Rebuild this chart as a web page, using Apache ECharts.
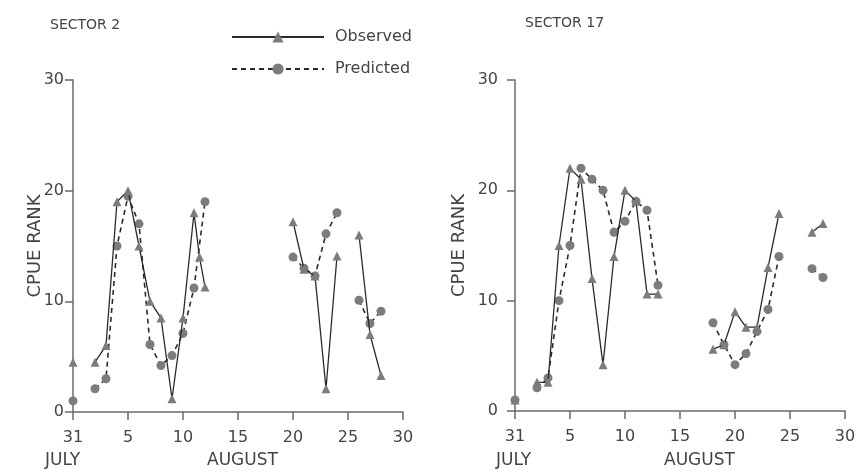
<!DOCTYPE html>
<html>
<head>
<meta charset="utf-8">
<script src="https://cdn.jsdelivr.net/npm/echarts@6/dist/echarts.min.js"></script>
<style>html,body{margin:0;padding:0;background:#fff}#c{width:864px;height:472px}</style>
</head>
<body>
<div id="c"></div>
<script>
// Days since 31 July (0 = 31 July, 5 = 5 August ...)
var xTickLabels = {0: '31', 5: '5', 10: '10', 15: '15', 20: '20', 25: '25', 30: '30'};
var panelTitles = ['SECTOR 2', 'SECTOR 17'];

var s2ObsDays = [0, 1, 2, 3, 4, 5, 6, 7, 8, 9, 10, 11, 11.5, 12, 13, 20, 21, 22, 23, 24, 25, 26, 27, 28];
var s2ObsRank = [4.5, null, 4.5, 6, 19, 20, 15, 10, 8.5, 1.2, 8.5, 18, 14, 11.3, null, 17.2, 12.9, 12.3, 2.1, 14.1, null, 16, 7, 3.3];

var s2PredDays = [0, 1, 2, 3, 4, 5, 6, 7, 8, 9, 10, 11, 12, 13, 20, 21, 22, 23, 24, 25, 26, 27, 28];
var s2PredRank = [1, null, 2.1, 3, 15, 19.5, 17, 6.1, 4.2, 5.1, 7.1, 11.2, 19, null, 14, 13, 12.3, 16.1, 18, null, 10.1, 8, 9.1];

var s17ObsDays = [0, 1, 2, 3, 4, 5, 6, 7, 8, 9, 10, 11, 12, 13, 14, 18, 19, 20, 21, 22, 23, 24, 25, 27, 28];
var s17ObsRank = [1, null, 2.6, 2.6, 15, 22, 21, 12, 4.2, 14, 20, 19, 10.6, 10.6, null, 5.6, 6, 9, 7.6, 7.6, 13, 17.9, null, 16.2, 17];

var s17PredDays = [0, 1, 2, 3, 4, 5, 6, 7, 8, 9, 10, 11, 12, 13, 14, 18, 19, 20, 21, 22, 23, 24, 25, 27, 28];
var s17PredRank = [1, null, 2.1, 3, 10, 15, 22, 21, 20, 16.2, 17.2, 19, 18.2, 11.4, null, 8, 6, 4.2, 5.2, 7.2, 9.2, 14, null, 12.9, 12.1];

function pairs(xs, ys) {
  return xs.map(function (x, i) { return [x, ys[i]]; });
}

var FONT = 'DejaVu Sans';
var TXT = '#444444';
var AX = '#6a6a6a';
var MARK = '#7c7c7c';

function xAxis(idx) {
  return {
    type: 'value', gridIndex: idx, min: 0, max: 30, interval: 5,
    axisLine: {show: true, lineStyle: {color: AX, width: 1.5}},
    axisTick: {show: true, length: 8, lineStyle: {color: AX, width: 1.5}},
    splitLine: {show: false},
    axisLabel: {
      margin: 18, color: TXT, fontFamily: FONT, fontSize: 16,
      formatter: function (v) { return xTickLabels[v] !== undefined ? xTickLabels[v] : ''; }
    }
  };
}
function yAxis(idx, gap, margin) {
  return {
    type: 'value', gridIndex: idx, min: 0, max: 30, interval: 10,
    name: 'CPUE RANK', nameLocation: 'middle', nameGap: gap, nameMoveOverlap: false,
    nameTextStyle: {color: TXT, fontFamily: FONT, fontSize: 18},
    axisLine: {show: true, lineStyle: {color: AX, width: 1.5}},
    axisTick: {show: true, length: 8, lineStyle: {color: AX, width: 1.5}},
    splitLine: {show: false},
    axisLabel: {margin: margin, color: TXT, fontFamily: FONT, fontSize: 16}
  };
}
function obsSeries(idx, data) {
  return {
    name: 'Observed', type: 'line', xAxisIndex: idx, yAxisIndex: idx,
    data: data, connectNulls: false, symbol: 'triangle', symbolSize: 9,
    showAllSymbol: true,
    lineStyle: {color: '#2a2a2a', width: 1.3, type: 'solid'},
    itemStyle: {color: MARK, borderWidth: 0},
    z: 3
  };
}
function predSeries(idx, data) {
  return {
    name: 'Predicted', type: 'line', xAxisIndex: idx, yAxisIndex: idx,
    data: data, connectNulls: false, symbol: 'circle', symbolSize: 9,
    showAllSymbol: true,
    lineStyle: {color: '#2a2a2a', width: 1.6, type: [5, 4]},
    itemStyle: {color: MARK, borderWidth: 0},
    z: 2
  };
}

var chart = echarts.init(document.getElementById('c'), null, {renderer: 'canvas'});
chart.setOption({
  animation: false,
  backgroundColor: '#ffffff',
  title: [
    {text: panelTitles[0], left: 45, top: 13, textStyle: {color: TXT, fontFamily: FONT, fontSize: 14, fontWeight: 'normal'}},
    {text: panelTitles[1], left: 520, top: 11, textStyle: {color: TXT, fontFamily: FONT, fontSize: 14, fontWeight: 'normal'}}
  ],
  legend: {
    orient: 'vertical', left: 226, top: 24, itemWidth: 92, itemHeight: 14, itemGap: 16,
    data: ['Observed', 'Predicted'],
    textStyle: {color: TXT, fontFamily: FONT, fontSize: 16, padding: [0, 0, 0, 6]}
  },
  grid: [
    {left: 73, right: 461, top: 80, bottom: 60, containLabel: false},
    {left: 515, right: 19, top: 80, bottom: 61, containLabel: false}
  ],
  xAxis: [xAxis(0), xAxis(1)],
  yAxis: [yAxis(0, 29, 9), yAxis(1, 47, 17)],
  graphic: [
    {type: 'text', left: 45, top: 452, style: {text: 'JULY', fill: TXT, font: '17px "DejaVu Sans"'}},
    {type: 'text', left: 207, top: 452, style: {text: 'AUGUST', fill: TXT, font: '17px "DejaVu Sans"'}},
    {type: 'text', left: 496, top: 452, style: {text: 'JULY', fill: TXT, font: '17px "DejaVu Sans"'}},
    {type: 'text', left: 664, top: 452, style: {text: 'AUGUST', fill: TXT, font: '17px "DejaVu Sans"'}}
  ],
  series: [
    obsSeries(0, pairs(s2ObsDays, s2ObsRank)),
    predSeries(0, pairs(s2PredDays, s2PredRank)),
    obsSeries(1, pairs(s17ObsDays, s17ObsRank)),
    predSeries(1, pairs(s17PredDays, s17PredRank))
  ]
});
</script>
</body>
</html>
